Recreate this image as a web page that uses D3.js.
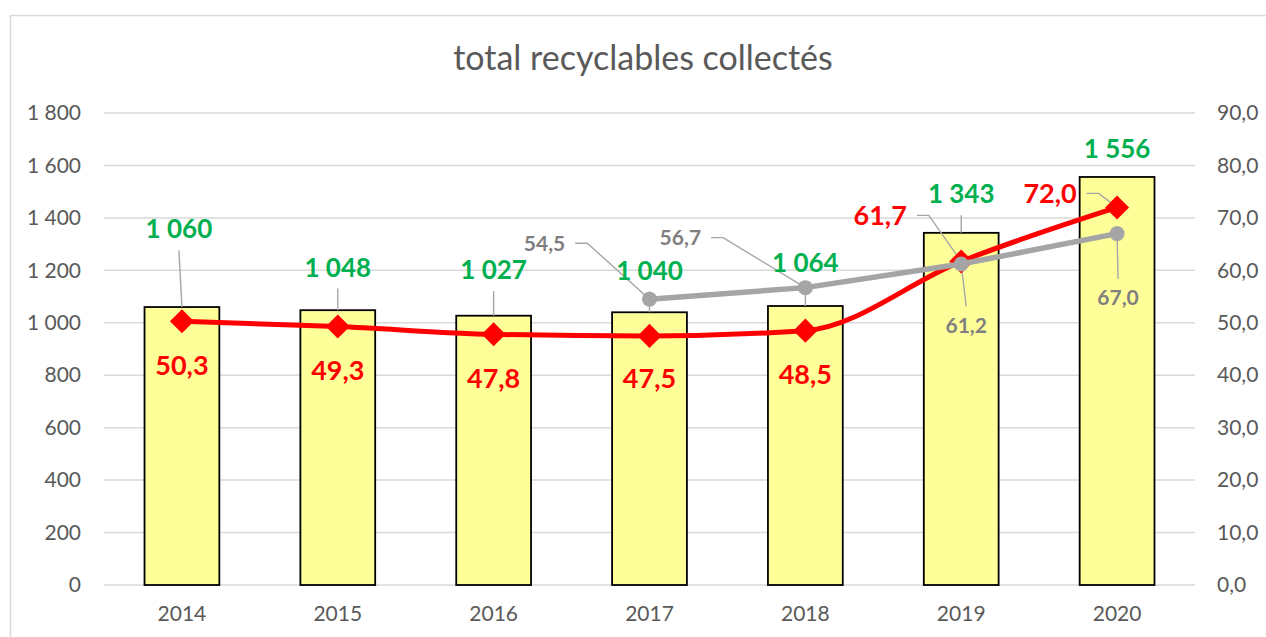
<!DOCTYPE html>
<html>
<head>
<meta charset="utf-8">
<script src="https://cdn.jsdelivr.net/npm/d3@7"></script>
<style>
  body { margin: 0; background: #fff; }
  text { font-family: Lato, "Open Sans", sans-serif; }
</style>
</head>
<body>
<div id="chart-area"></div>
<script>
// data
const years = ["2014", "2015", "2016", "2017", "2018", "2019", "2020"];
const tonnes = [1060, 1048, 1027, 1040, 1064, 1343, 1556];
const rateRed = [50.3, 49.3, 47.8, 47.5, 48.5, 61.7, 72.0];
const rateGray = [null, null, null, 54.5, 56.7, 61.2, 67.0];
const leftTicks = [0, 200, 400, 600, 800, 1000, 1200, 1400, 1600, 1800];
const rightTicks = [0, 10, 20, 30, 40, 50, 60, 70, 80, 90];

// label offsets (px) from the point they belong to
const greenOff = [[-3, -78], [0, -43], [0, -46], [0, -42], [0, -43], [0, -39], [0, -28]];
const redOff = [[0, 44], [0, 44], [0, 44], [0, 42], [0, 44], [-81, -46], [-67, -14]];
const grayOff = [null, null, null, [-105, -56], [-125, -50], [5, 61], [1, 64]];

const W = 1266, H = 637;
const plotL = 104, plotR = 1195, plotT = 113, plotB = 585;

const fr = d3.formatLocale({decimal: ",", thousands: " ", grouping: [3], currency: ["", ""]});
const fInt = fr.format(",d");
const fDec = fr.format(".1f");

const svg = d3.select("#chart-area").append("svg")
  .attr("width", W)
  .attr("height", H);

svg.append("rect").attr("width", W).attr("height", H).attr("fill", "#fff");
svg.append("rect")
  .attr("x", 10.5).attr("y", 15.5)
  .attr("width", W).attr("height", H)
  .attr("fill", "none").attr("stroke", "#d9d9d9").attr("stroke-width", 1.5);

svg.append("text")
  .attr("x", 643).attr("y", 70)
  .attr("text-anchor", "middle")
  .attr("font-size", 34)
  .attr("fill", "#595959")
  .text("total recyclables collectés");

const x = d3.scaleBand().domain(years).range([plotL, plotR]).paddingInner(0.52).paddingOuter(0.26);
const yL = d3.scaleLinear().domain([0, 1800]).range([plotB, plotT]);
const yR = d3.scaleLinear().domain([0, 90]).range([plotB, plotT]);
const cx = d => x(d) + x.bandwidth() / 2;

// layers
const gridG = svg.append("g");
const axesG = svg.append("g");
const barsG = svg.append("g");
const leaders = svg.append("g").attr("fill", "none").attr("stroke", "#a6a6a6").attr("stroke-width", 1.4);
const redG = svg.append("g");
const grayG = svg.append("g");
const labels = svg.append("g").attr("text-anchor", "middle").attr("font-weight", "bold");

// gridlines
gridG.selectAll("line")
  .data(leftTicks).enter().append("line")
  .attr("x1", plotL).attr("x2", plotR)
  .attr("y1", d => yL(d)).attr("y2", d => yL(d))
  .attr("stroke", "#d9d9d9").attr("stroke-width", 1.5);

// axes
const axisL = d3.axisLeft(yL).tickValues(leftTicks).tickSize(0).tickPadding(23).tickFormat(fInt);
const axisR = d3.axisRight(yR).tickValues(rightTicks).tickSize(0).tickPadding(22).tickFormat(fDec);
const axisB = d3.axisBottom(x).tickSize(0).tickPadding(21);

const gL = axesG.append("g").attr("transform", "translate(" + plotL + ",0)").call(axisL);
const gR = axesG.append("g").attr("transform", "translate(" + plotR + ",0)").call(axisR);
const gB = axesG.append("g").attr("transform", "translate(0," + plotB + ")").call(axisB);
[gL, gR, gB].forEach(g => {
  g.select(".domain").remove();
  g.selectAll("text").attr("font-size", 21).attr("fill", "#595959").style("font-family", "Lato, sans-serif");
});

// bars
barsG.selectAll("rect")
  .data(years).enter().append("rect")
  .attr("x", d => x(d))
  .attr("y", (d, i) => yL(tonnes[i]))
  .attr("width", x.bandwidth())
  .attr("height", (d, i) => plotB - yL(tonnes[i]))
  .attr("fill", "#ffff99")
  .attr("stroke", "#000")
  .attr("stroke-width", 1.8);

// red line (smoothed)
const redPts = years.map((d, i) => [cx(d), yR(rateRed[i])]);
redG.append("path")
  .attr("d", d3.line().curve(d3.curveMonotoneX)(redPts))
  .attr("fill", "none").attr("stroke", "#ff0000").attr("stroke-width", 5);
redG.selectAll(".mk")
  .data(redPts).enter().append("path")
  .attr("class", "mk")
  .attr("transform", d => "translate(" + d[0] + "," + d[1] + ") rotate(45)")
  .attr("d", "M-8.5,-8.5H8.5V8.5H-8.5Z")
  .attr("fill", "#ff0000");

// gray line
const grayPts = years.map((d, i) => rateGray[i] == null ? null : [cx(d), yR(rateGray[i])]).filter(p => p);
grayG.append("path")
  .attr("d", d3.line()(grayPts))
  .attr("fill", "none").attr("stroke", "#a5a5a5").attr("stroke-width", 5.5);
grayG.selectAll("circle")
  .data(grayPts).enter().append("circle")
  .attr("cx", d => d[0]).attr("cy", d => d[1]).attr("r", 7.5)
  .attr("fill", "#a5a5a5");

function addLabel(px, py, off, txt, color, size) {
  const lx = px + off[0], ly = py + off[1];
  const t = labels.append("text")
    .attr("x", lx).attr("y", ly)
    .attr("dy", "0.36em")
    .attr("font-size", size)
    .attr("fill", color)
    .text(txt);
  const bb = t.node().getBBox();
  const h = size * 0.72;
  if (off[0] < -30) {
    const sx = bb.x + bb.width + 10;
    leaders.append("path").attr("d", "M" + sx + "," + ly + "H" + (sx + 12) + "L" + px + "," + py);
  } else if (off[1] > 50) {
    leaders.append("path").attr("d", "M" + lx + "," + (ly - h / 2 - 11) + "L" + px + "," + py);
  } else if (off[1] < -30) {
    leaders.append("path").attr("d", "M" + lx + "," + (ly + h / 2 + 12) + "L" + px + "," + py);
  }
}

years.forEach((d, i) => {
  addLabel(cx(d), yL(tonnes[i]), greenOff[i], fInt(tonnes[i]), "#00b050", 26);
  addLabel(cx(d), yR(rateRed[i]), redOff[i], fDec(rateRed[i]), "#ff0000", 27);
  if (rateGray[i] != null) addLabel(cx(d), yR(rateGray[i]), grayOff[i], fDec(rateGray[i]), "#7f7f7f", 21);
});
</script>
</body>
</html>
